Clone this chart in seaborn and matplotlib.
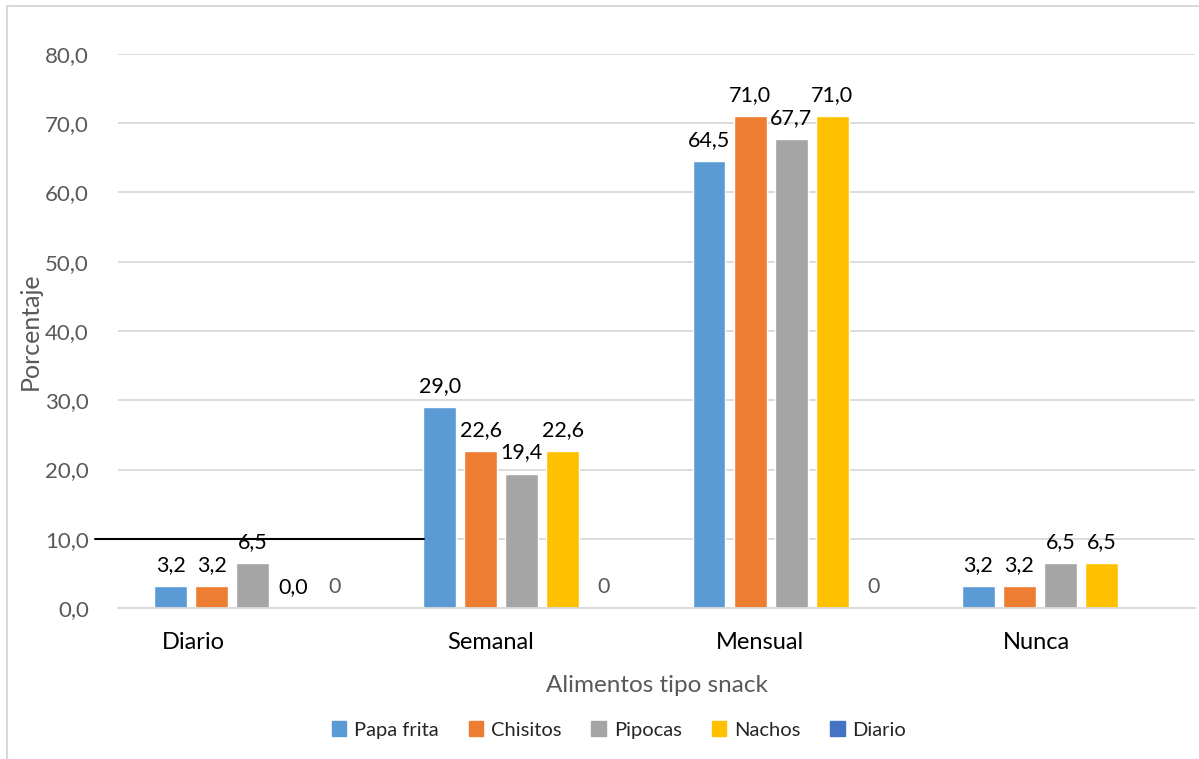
import matplotlib
matplotlib.use("Agg")
import matplotlib.pyplot as plt
from matplotlib.lines import Line2D
import seaborn as sns
import pandas as pd
import numpy as np

categories = ["Diario", "Semanal", "Mensual", "Nunca"]
series = ["Papa frita", "Chisitos", "Pipocas", "Nachos", "Diario"]
papa_frita = [3.2, 29.0, 64.5, 3.2]
chisitos = [3.2, 22.6, 71.0, 3.2]
pipocas = [6.5, 19.4, 67.7, 6.5]
nachos = [0.0, 22.6, 71.0, 6.5]
diario = [0, 0, 0, 0]
diario_labels = ["0", "0", "0", ""]
colors = ["#5B9BD5", "#ED7D31", "#A5A5A5", "#FFC000", "#4472C4"]
yticks = [0, 10, 20, 30, 40, 50, 60, 70, 80]

values = [papa_frita, chisitos, pipocas, nachos, diario]
rows = []
for s, vals in zip(series, values):
    for c, v in zip(categories, vals):
        rows.append({"cat": c, "serie": s, "val": v})
df = pd.DataFrame(rows)

sns.set_style("white")
plt.rcParams["font.family"] = ["Lato", "DejaVu Sans"]

fig = plt.figure(figsize=(11.99, 7.59), dpi=100)
ax = fig.add_axes([118/1199, (759-608)/759, (1195-118)/1199, (608-54)/759])

sns.barplot(data=df, x="cat", y="val", hue="serie", order=categories,
            hue_order=series, palette=colors, width=0.762, gap=0.2,
            saturation=1, ax=ax, legend=False, errorbar=None)

ax.set_ylim(0, 80)
ax.set_xlim(-0.5, 3.5)
ax.set_yticks(yticks)
ax.set_yticklabels([f"{v:.1f}".replace(".", ",") for v in yticks],
                   color="#595959", fontsize=16)
ax.yaxis.grid(True, color="#D9D9D9", lw=1.3)
ax.set_axisbelow(True)
for sp in ["top", "right", "left"]:
    ax.spines[sp].set_visible(False)
ax.spines["bottom"].set_color("#D9D9D9")
ax.spines["bottom"].set_linewidth(1.3)
ax.tick_params(axis="both", length=0)
ax.tick_params(axis="y", pad=21)

offsets = [-0.22, -0.115, -0.115, -0.09]
ax.set_xticks(np.arange(len(categories)) + np.array(offsets))
ax.set_xticklabels(categories, fontsize=17, color="black")
ax.tick_params(axis="x", pad=17)

for i, cont in enumerate(ax.containers):
    if series[i] == "Diario":
        ax.bar_label(cont, labels=diario_labels, padding=8,
                     fontsize=15.5, color="#595959")
    else:
        ax.bar_label(cont, labels=[f"{v:.1f}".replace(".", ",") for v in values[i]],
                     padding=8, fontsize=15.5, color="black")

ax.set_ylabel("Porcentaje", fontsize=18, color="#595959")
ax.yaxis.set_label_coords(-(118-42)/1077, 0.5)
ax.set_xlabel("Alimentos tipo snack", fontsize=17.5, color="#595959", labelpad=16)

ax.axhline(10, xmin=-23/1077, xmax=306/1077, color="black", lw=1.5,
           clip_on=False, zorder=5)

handles = [plt.Rectangle((0, 0), 1, 1, color=c) for c in colors]
fig.legend(handles, series, loc="center", bbox_to_anchor=(619/1199, 1 - 730/759),
           ncol=5, frameon=False, fontsize=14.5, handlelength=0.7, handleheight=0.7,
           handletextpad=0.4, columnspacing=1.5)

fig.add_artist(Line2D([7/1199, 7/1199], [0, 1 - 6/759], color="#D9D9D9", lw=1.5))
fig.add_artist(Line2D([7/1199, 1], [1 - 6/759, 1 - 6/759], color="#D9D9D9", lw=1.5))

fig.savefig("out.png", dpi=100)
